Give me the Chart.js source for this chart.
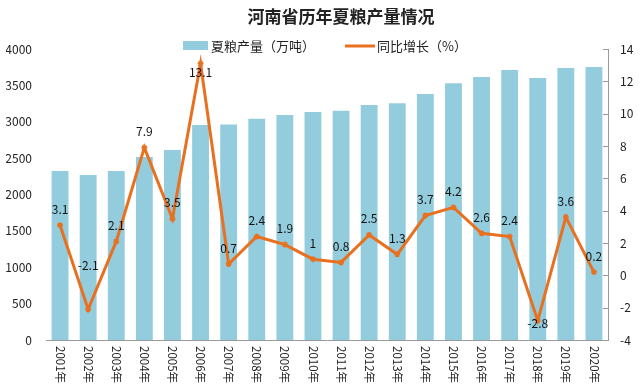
<!DOCTYPE html>
<html>
<head>
<meta charset="utf-8">
<script src="https://cdn.jsdelivr.net/npm/chart.js@4/dist/chart.umd.min.js"></script>
<style>
html,body{margin:0;padding:0;background:#fff;}
#wrap{width:640px;height:392px;}
</style>
</head>
<body>
<div id="wrap"><canvas id="c" width="640" height="392"></canvas></div>
<script>
const title = '河南省历年夏粮产量情况';
const years = ['2001年','2002年','2003年','2004年','2005年','2006年','2007年','2008年','2009年','2010年','2011年','2012年','2013年','2014年','2015年','2016年','2017年','2018年','2019年','2020年'];
const output = [2322, 2267, 2322, 2515, 2612, 2955, 2962, 3040, 3094, 3134, 3150, 3230, 3256, 3381, 3530, 3615, 3710, 3602, 3740, 3753];
const growth = [3.1, -2.1, 2.1, 7.9, 3.5, 13.1, 0.7, 2.4, 1.9, 1, 0.8, 2.5, 1.3, 3.7, 4.2, 2.6, 2.4, -2.8, 3.6, 0.2];
const seriesNames = ['夏粮产量（万吨）', '同比增长（%）'];
const leftTicks = [0, 500, 1000, 1500, 2000, 2500, 3000, 3500, 4000];
const rightTicks = [-4, -2, 0, 2, 4, 6, 8, 10, 12, 14];

const BAR = '#93CDDD';
const LINE = '#E8701F';
const FONT = '"Noto Sans CJK SC", "Noto Sans", sans-serif';

const labelOffsets = {1: -44, 5: 9, 17: 3};

const deco = {
  id: 'deco',
  afterDraw(chart) {
    const ctx = chart.ctx;
    const area = chart.chartArea;
    const x = chart.scales.x;
    const y1 = chart.scales.y1;
    ctx.save();
    // title
    ctx.fillStyle = '#222';
    ctx.font = 'bold 17px ' + FONT;
    ctx.textAlign = 'center';
    ctx.textBaseline = 'middle';
    ctx.fillText(title, 341, 17);
    // legend
    ctx.font = '13px ' + FONT;
    ctx.textAlign = 'left';
    ctx.fillStyle = BAR;
    ctx.fillRect(183, 41, 25, 9);
    ctx.fillStyle = '#222';
    ctx.fillText(seriesNames[0], 211, 46);
    ctx.strokeStyle = LINE;
    ctx.lineWidth = 3;
    ctx.beginPath(); ctx.moveTo(345, 46); ctx.lineTo(375, 46); ctx.stroke();
    ctx.fillStyle = '#222';
    ctx.fillText(seriesNames[1], 377, 46);
    // right axis inward ticks
    ctx.strokeStyle = '#999';
    ctx.lineWidth = 1;
    y1.ticks.forEach((t, i) => {
      const py = Math.round(y1.getPixelForTick(i)) + 0.5;
      ctx.beginPath(); ctx.moveTo(area.right - 5, py); ctx.lineTo(area.right, py); ctx.stroke();
    });
    // x labels rotated clockwise
    ctx.fillStyle = '#222';
    ctx.font = '11.5px ' + FONT;
    ctx.textAlign = 'left';
    ctx.textBaseline = 'middle';
    years.forEach((lab, i) => {
      const px = x.getPixelForTick(i);
      ctx.save();
      ctx.translate(px, area.bottom + 6);
      ctx.rotate(Math.PI / 2);
      ctx.fillText(lab, 0, 0);
      ctx.restore();
    });
    // data labels
    const meta = chart.getDatasetMeta(0);
    ctx.font = '12px ' + FONT;
    ctx.textAlign = 'center';
    ctx.textBaseline = 'middle';
    ctx.fillStyle = '#111';
    meta.data.forEach((pt, i) => {
      const off = labelOffsets[i] !== undefined ? labelOffsets[i] : -16;
      ctx.fillText(String(growth[i]), pt.x, pt.y + off);
    });
    ctx.restore();
  }
};

new Chart(document.getElementById('c'), {
  data: {
    labels: years,
    datasets: [
      {
        type: 'line',
        label: seriesNames[1],
        data: growth,
        yAxisID: 'y1',
        borderColor: LINE,
        backgroundColor: LINE,
        borderWidth: 3,
        pointStyle: 'star',
        pointRadius: 3,
        pointBorderWidth: 1.5,
        pointBorderColor: LINE,
        tension: 0,
        order: 0
      },
      {
        type: 'bar',
        label: seriesNames[0],
        data: output,
        yAxisID: 'y',
        backgroundColor: BAR,
        barPercentage: 0.6,
        categoryPercentage: 1.0,
        order: 1
      }
    ]
  },
  options: {
    responsive: false,
    animation: false,
    layout: { padding: { top: 49, bottom: 52, left: 6, right: 6 } },
    plugins: { legend: { display: false }, title: { display: false }, tooltip: { enabled: false } },
    scales: {
      x: {
        grid: { display: false, drawTicks: false },
        border: { display: true, color: '#999' },
        ticks: { display: false },
        afterFit: (s) => { s.height = 0; }
      },
      y: {
        position: 'left',
        min: 0, max: 4000,
        afterBuildTicks: (s) => { s.ticks = leftTicks.map(v => ({ value: v })); },
        afterFit: (s) => { s.width = 40; },
        grid: { display: false, drawTicks: false },
        border: { display: false },
        ticks: { color: '#222', font: { family: FONT, size: 12 }, padding: 14, callback: (v) => String(v) }
      },
      y1: {
        position: 'right',
        min: -4, max: 14,
        afterBuildTicks: (s) => { s.ticks = rightTicks.map(v => ({ value: v })); },
        afterFit: (s) => { s.width = 26; },
        grid: { display: false, drawTicks: false },
        border: { display: true, color: '#999' },
        ticks: { color: '#222', font: { family: FONT, size: 12 }, padding: 12, callback: (v) => String(v) }
      }
    }
  },
  plugins: [deco]
});
</script>
</body>
</html>
